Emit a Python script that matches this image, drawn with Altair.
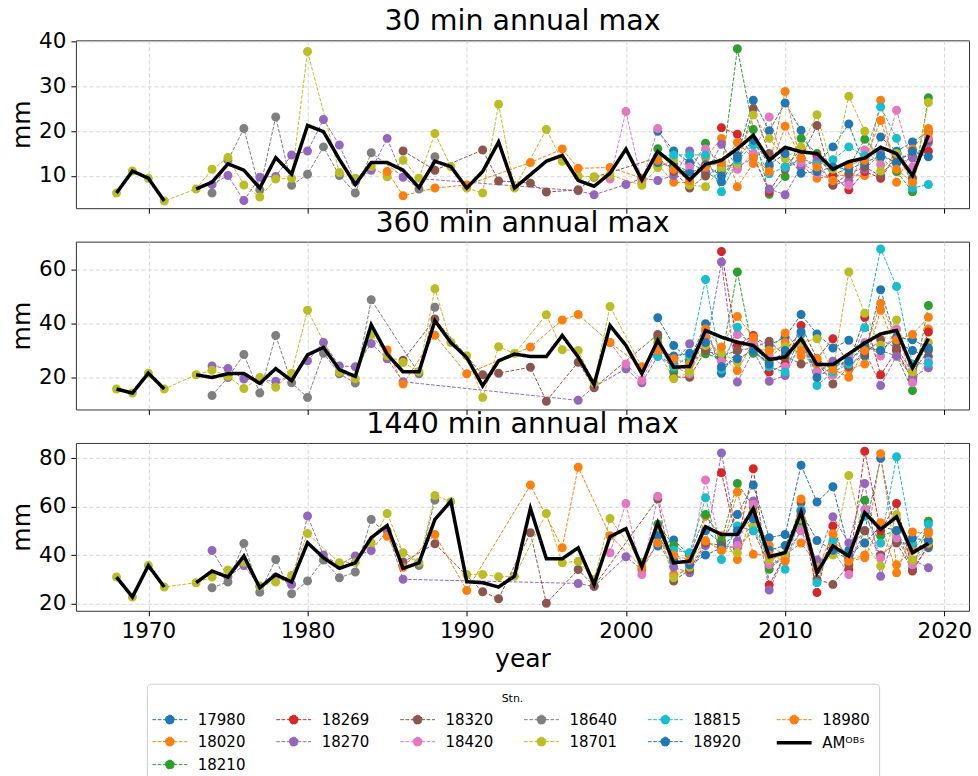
import altair as alt
import pandas as pd

N = None
YEARS = list(range(1968, 2020))
YRS_02 = list(range(2002, 2020))
XTICKS = [1970, 1980, 1990, 2000, 2010, 2020]

AM = "AMᴼᴮˢ"
STATIONS = ["17980", "18020", "18210", "18269", "18270", "18320", "18420",
            "18640", "18701", "18815", "18920", "18980"]
LEGEND_ORDER = ["17980", "18269", "18320", "18640", "18815", "18980",
                "18020", "18270", "18420", "18701", "18920", AM, "18210"]
COLOR_OF = {"17980": "#1f77b4", "18020": "#ff7f0e", "18210": "#2ca02c",
            "18269": "#d62728", "18270": "#9467bd", "18320": "#8c564b",
            "18420": "#e377c2", "18640": "#7f7f7f", "18701": "#bcbd22",
            "18815": "#17becf", "18920": "#1f77b4", "18980": "#ff7f0e",
            AM: "#000000"}

# ---- AM^OBS (areal max) per duration, 1968-2019 ----
AM_30 = [6.2, 11.1, 9.5, 4.4, N, 7.1, 8.6, 12.7, 11.3, 7.3,
         14.1, 10.4, 21.3, 19.9, 13.7, 8.1, 13.0, 13.0, 11.3, 7.4,
         13.3, 12.1, 7.3, 11.0, 17.6, 7.3, 10.3, 13.3, 14.6, 9.0,
         7.7, 10.6, 16.0, 9.1, 15.5, 12.6, 9.1, 12.6, 13.5, 16.1,
         19.1, 13.5, 16.4, 15.4, 15.0, 11.5, 13.2, 14.0, 16.4, 15.0,
         10.1, 19.1]
AM_360 = [15.7, 14.2, 21.6, 15.7, N, 21.0, 20.0, 21.4, 21.5, 17.8,
          23.3, 18.8, 28.4, 31.2, 22.9, 20.4, 39.6, 28.7, 22.1, 22.1,
          41.1, 33.0, 27.4, 16.9, 26.2, 28.7, 27.8, 27.8, 35.6, 27.6,
          17.4, 39.3, 31.9, 21.4, 33.8, 23.8, 24.1, 37.5, 35.0, 33.1,
          31.9, 26.7, 27.6, 34.4, 24.8, 24.8, 28.8, 32.8, 36.2, 37.5,
          23.6, 34.4]
AM_1440 = [30.9, 22.7, 35.7, 26.8, N, 28.6, 33.4, 30.9, 39.6, 26.5,
           32.0, 28.9, 45.1, 38.9, 34.5, 36.8, 47.2, 52.2, 34.5, 36.8,
           54.7, 62.3, 29.0, 28.6, 26.8, 31.3, 59.3, 38.5, 38.5, 43.0,
           27.9, 47.6, 50.9, 35.2, 53.3, 36.8, 37.5, 51.7, 48.5, 48.5,
           59.1, 39.3, 41.0, 57.7, 32.7, 43.7, 39.6, 57.5, 50.6, 55.8,
           41.0, 44.8]

# ---- station years ----
YRS_18701 = (list(range(1968, 1972)) + list(range(1973, 1981)) + list(range(1982, 1994))
             + list(range(1995, 2000)) + list(range(2001, 2020)))
YRS_18640 = list(range(1974, 1985)) + [1987, 1988]
YRS_18270 = list(range(1974, 1987)) + [1997, 1998] + list(range(2000, 2020))
YRS_18320 = [1986, 1988, 1991, 1992, 1994, 1995, 1997, 1998] + YRS_02
YRS_18980 = [1985, 1986, 1988, 1990, 1994, 1996, 1997, 1999] + list(range(2001, 2020))
YRS_18420 = list(range(1999, 2020))
YRS_18269 = list(range(2006, 2020))

# ---- station values: 30 min ----
V30 = {
    "18701": [6.2, 11.1, 9.5, 4.4,
              7.1, 11.5, 14.1, 8.0, 5.3, 9.3, 9.5, 37.8,
              10.8, 9.5, 12.1, 9.8, 13.5, 9.5, 19.5, 12.1, 7.3, 6.2, 26.0, 7.3,
              20.4, 13.3, 10.0, 9.8, 10.2,
              7.9, 11.9, 13.6, 8.0, 7.6, 11.7, 12.8, 23.6, 18.4, 13.9, 16.5, 23.7, 11.5,
              27.8, 20.0, 11.1, 15.0, 8.4, 26.4],
    "18640": [6.2, 13.5, 20.6, 6.9, 23.2, 7.9, 10.4, 16.5, 10.1, 6.2, 15.2, 7.1, 14.3],
    "18270": [8.1, 10.1, 4.5, 9.7, 9.9, 14.7, 15.6, 22.6, 16.9, 8.7, 11.3, 18.4, 9.7,
              6.7, 5.8,
              8.1, 9.5, 9.0, 10.1, 15.6, 10.5, 17.1, 12.0, 14.0, 7.1, 5.8, 12.0, 13.5, 7.9,
              9.0, 11.5, 15.0, 12.8, 14.0, 17.4],
    "18320": [15.6, 11.3, 15.8, 8.9, 8.4, 6.4, 6.9, 9.7,
              14.1, 11.0, 7.3, 10.0, 12.0, 12.5, 25.0, 15.0, 11.5, 14.0, 21.3, 8.0, 10.5,
              12.0, 10.0, 14.5, 9.5, 18.0],
    "18980": [11.0, 5.6, 7.3, 8.0, 13.0, 16.0, 11.7, 11.9,
              9.5, 13.5, 11.5, 9.0, 12.0, 13.0, 17.5, 14.0, 11.0, 21.1, 14.0, 12.0, 9.0,
              12.5, 13.5, 22.4, 11.5, 8.6, 19.5],
    "18420": [9.3, 24.4, 8.5, 20.6, 14.0, 12.0, 16.0, 13.0, 11.5, 15.0, 23.2, 12.0, 13.0,
              10.6, 9.0, 7.9, 15.8, 12.5, 24.7, 12.0, 18.5],
    "17980": [20.0, 15.6, 13.0, 11.0, 8.7, 14.5, 26.9, 20.1, 26.3, 20.2, 12.8, 16.5, 21.6,
              12.1, 18.7, 15.5, 17.6, 19.9],
    "18920": [13.0, 12.0, 10.5, 12.5, 10.0, 14.0, 18.0, 12.5, 15.0, 10.6, 11.0, 12.0, 11.5,
              13.0, 14.5, 13.0, 15.5, 14.3],
    "18020": [12.5, 8.6, 8.5, 14.1, 18.4, 7.6, 12.8, 12.0, 28.9, 12.4, 9.5, 10.0, 10.2,
              10.1, 26.9, 8.6, 16.0, 20.6],
    "18210": [16.1, 12.5, 11.0, 17.3, 11.0, 38.4, 20.4, 5.9, 9.9, 18.4, 15.0, 10.1, 12.0,
              18.2, 14.1, 11.0, 6.5, 27.5],
    "18815": [14.5, 14.7, 14.7, 14.7, 6.5, 13.5, 16.9, 10.5, 12.0, 14.0, 12.5, 13.6, 16.5,
              14.5, 25.4, 18.4, 7.3, 8.1],
    "18269": [20.8, 19.3, 14.5, 6.5, 12.0, 16.0, 14.5, 10.1, 6.9, 11.0, 9.5, 14.5, 14.3, 15.5],
}

# ---- station values: 360 min ----
V360 = {
    "18701": [15.7, 14.2, 21.6, 15.7,
              21.0, 22.7, 20.5, 15.9, 20.0, 16.4, 21.6, 45.0,
              22.0, 19.5, 36.0, 28.1, 25.6, 22.2, 53.0, 33.0, 28.1, 12.6, 31.4, 28.9,
              43.3, 30.3, 30.0, 18.0, 46.4,
              23.8, 30.0, 19.5, 22.0, 31.9, 29.0, 25.7, 31.0, 30.0, 31.5, 33.0, 34.4, 22.0,
              59.2, 43.9, 32.0, 41.4, 22.0, 33.0],
    "18640": [13.3, 20.0, 28.5, 14.2, 35.6, 18.0, 12.6, 29.0, 21.4, 17.9, 48.9, 21.4, 46.1],
    "18270": [24.3, 23.3, 19.4, 19.0, 18.6, 20.5, 26.2, 33.0, 24.3, 24.0, 32.6, 27.0, 18.4,
              11.5, 16.5,
              23.2, 18.0, 28.0, 25.0, 32.5, 30.0, 62.9, 18.3, 30.0, 18.6, 20.7, 33.0, 22.0,
              26.0, 24.0, 30.0, 17.0, 28.0, 20.0, 23.6],
    "18320": [26.4, 41.7, 21.0, 21.6, 23.8, 11.2, 25.7, 16.2,
              36.0, 20.1, 20.1, 30.0, 28.0, 30.0, 31.0, 33.5, 28.0, 25.0, 26.0, 17.6, 24.0,
              29.0, 34.0, 31.0, 22.0, 30.0],
    "18980": [30.2, 17.6, 35.7, 21.4, 31.3, 41.4, 43.4, 33.0,
              24.0, 30.0, 27.0, 25.0, 38.0, 31.3, 42.7, 35.0, 30.0, 36.5, 30.0, 27.0, 23.0,
              20.1, 30.0, 47.6, 34.0, 36.0, 42.4],
    "18420": [33.0, 25.0, 19.0, 31.0, 24.0, 21.4, 37.0, 26.0, 36.0, 33.0, 28.0, 24.0, 31.0,
              22.0, 21.0, 27.0, 33.0, 28.0, 38.0, 18.0, 26.0],
    "17980": [42.2, 31.9, 26.3, 40.0, 21.6, 30.0, 35.0, 32.0, 35.0, 43.4, 36.2, 31.0, 33.8,
              28.0, 52.6, 33.0, 30.0, 27.8],
    "18920": [30.0, 28.0, 29.0, 33.0, 24.0, 27.0, 30.0, 25.0, 30.0, 37.0, 20.0, 24.0, 26.0,
              32.0, 30.0, 35.0, 34.0, 31.0],
    "18020": [33.0, 26.0, 22.0, 35.0, 28.0, 22.6, 33.0, 27.0, 33.0, 28.0, 25.0, 21.0, 23.0,
              25.0, 45.0, 30.0, 20.0, 38.0],
    "18210": [35.0, 22.0, 26.0, 28.8, 27.0, 59.2, 29.0, 26.0, 27.0, 32.0, 22.0, 25.0, 26.0,
              31.0, 30.0, 28.0, 15.2, 46.8],
    "18815": [27.8, 24.0, 28.0, 56.4, 23.0, 38.7, 30.0, 24.0, 22.0, 36.0, 17.0, 22.0, 25.0,
              38.5, 67.8, 53.8, 25.0, 25.3],
    "18269": [66.8, 32.0, 35.6, 22.0, 25.0, 39.3, 27.0, 34.4, 25.0, 42.4, 21.0, 30.0, 19.0, 36.9],
}

# ---- station values: 1440 min ----
V1440 = {
    "18701": [30.9, 22.7, 35.7, 26.8,
              28.6, 30.9, 33.8, 37.0, 27.2, 28.9, 31.6, 48.9,
              36.8, 37.0, 45.1, 57.2, 41.0, 37.0, 64.6, 62.0, 32.0, 32.0, 31.1, 31.3,
              57.2, 36.8, 37.5, 30.0, 55.1,
              37.0, 50.0, 30.6, 35.0, 46.0, 42.0, 41.0, 52.0, 38.0, 40.0, 55.0, 35.0, 40.0,
              72.9, 45.0, 35.5, 56.8, 38.0, 45.0],
    "18640": [26.5, 28.9, 44.8, 24.7, 38.2, 24.0, 29.3, 38.0, 30.6, 33.0, 54.7, 35.7, 62.7],
    "18270": [41.9, 31.0, 35.7, 27.0, 31.0, 27.9, 56.1, 40.0, 36.0, 39.6, 41.9, 50.0, 30.0,
              28.3, 27.0,
              39.3, 34.0, 45.0, 35.0, 32.7, 44.0, 82.2, 45.8, 62.3, 25.6, 40.0, 50.0, 38.0,
              55.8, 45.0, 69.6, 31.3, 50.0, 38.0, 34.8],
    "18320": [37.1, 44.7, 24.9, 22.0, 49.2, 20.1, 34.0, 27.2,
              63.2, 29.3, 34.0, 45.0, 44.0, 43.0, 50.0, 36.0, 39.0, 61.6, 30.0, 27.9, 36.0,
              50.0, 40.0, 45.0, 34.0, 44.0],
    "18980": [47.8, 35.0, 48.5, 25.4, 68.9, 43.0, 76.3, 48.0,
              35.0, 45.0, 40.0, 38.0, 45.8, 42.0, 66.0, 40.3, 40.0, 37.5, 63.2, 34.0, 48.8,
              37.5, 38.9, 53.3, 32.7, 49.5, 48.8],
    "18420": [41.0, 61.3, 32.0, 64.3, 40.0, 36.0, 71.0, 42.0, 44.0, 61.0, 36.1, 38.0, 50.0,
              34.0, 42.0, 32.0, 58.8, 38.9, 47.0, 36.0, 45.0],
    "17980": [43.7, 46.2, 40.0, 50.0, 45.0, 56.8, 68.9, 47.2, 48.5, 77.1, 61.9, 68.2, 42.0,
              50.0, 80.0, 46.0, 44.0, 43.0],
    "18920": [48.0, 38.0, 36.0, 40.0, 43.0, 50.0, 55.0, 42.0, 44.0, 58.0, 46.0, 42.0, 40.0,
              45.0, 52.0, 50.0, 47.0, 46.0],
    "18020": [50.0, 32.0, 34.0, 56.0, 48.0, 38.2, 58.0, 44.0, 40.0, 45.0, 36.0, 44.0, 38.0,
              40.0, 81.8, 36.0, 42.0, 50.0],
    "18210": [52.7, 44.0, 40.0, 56.8, 46.0, 69.6, 60.0, 34.1, 40.0, 54.0, 36.0, 42.0, 38.0,
              62.6, 48.0, 50.0, 34.0, 54.0],
    "18815": [47.8, 42.0, 41.0, 63.7, 38.2, 52.0, 50.0, 40.0, 34.1, 58.8, 28.6, 46.0, 40.0,
              56.0, 45.0, 80.6, 45.0, 52.7],
    "18269": [74.0, 45.1, 75.6, 27.6, 40.0, 58.0, 24.5, 52.0, 34.0, 82.9, 50.0, 61.3, 33.4, 44.0],
}

YEARS_OF = {"18701": YRS_18701, "18640": YRS_18640, "18270": YRS_18270,
            "18320": YRS_18320, "18980": YRS_18980, "18420": YRS_18420,
            "17980": YRS_02, "18920": YRS_02, "18020": YRS_02, "18210": YRS_02,
            "18815": YRS_02, "18269": YRS_18269}


def station_frame(values):
    rows = []
    for stn in STATIONS:
        for yr, v in zip(YEARS_OF[stn], values[stn]):
            rows.append({"year": yr, "value": v, "stn": stn, "seg": stn})
    return pd.DataFrame(rows)


def am_frame(values):
    rows = []
    for yr, v in zip(YEARS, values):
        if v is not None:
            rows.append({"year": yr, "value": v, "stn": AM,
                         "seg": "am_a" if yr < 1972 else "am_b"})
    return pd.DataFrame(rows)


FONT = "DejaVu Sans"
# legend glyphs: dashed line with a marker for stations, plain line for AM
MARKER_PATH = "M-1.55,0L1.55,0M-0.4,0A0.4,0.4,0,1,1,0.4,0A0.4,0.4,0,1,1,-0.4,0Z"
LINE_PATH = "M-1.55,0L1.55,0"
LEG = alt.Legend(title="Stn.", orient="none", legendX=71, legendY=644,
                 direction="horizontal", columns=6,
                 symbolSize=506, symbolOffset=1,
                 labelFontSize=15, labelFont=FONT, labelColor="black",
                 titleFontSize=11, titleFont=FONT, titleFontWeight="normal",
                 titleColor="black", titleAnchor="middle", titlePadding=4,
                 strokeColor="#cccccc", fillColor="white", padding=9,
                 cornerRadius=4, columnPadding=28, rowPadding=2, labelOffset=15)

color_enc = alt.Color("stn:N", scale=alt.Scale(domain=LEGEND_ORDER,
                      range=[COLOR_OF[s] for s in LEGEND_ORDER]), legend=LEG)
dash_enc = alt.StrokeDash("stn:N", scale=alt.Scale(type="ordinal", domain=LEGEND_ORDER,
                          range=[[1, 0] if s == AM else [3.7, 1.6] for s in LEGEND_ORDER]),
                          legend=LEG)
width_enc = alt.StrokeWidth("stn:N", scale=alt.Scale(type="ordinal", domain=LEGEND_ORDER,
                            range=[3.5 if s == AM else 1.0 for s in LEGEND_ORDER]),
                            legend=LEG)
shape_enc = alt.Shape("stn:N", scale=alt.Scale(domain=LEGEND_ORDER,
                      range=[LINE_PATH if s == AM else MARKER_PATH for s in LEGEND_ORDER]),
                      legend=LEG)


def panel(title, st_vals, am_vals, ydom, yticks, bottom, toff):
    st = station_frame(st_vals)
    am = am_frame(am_vals)
    x = alt.X("year:Q", scale=alt.Scale(domain=[1965.45, 2021.55], nice=False, zero=False),
              axis=alt.Axis(values=XTICKS, labels=bottom, format="d",
                            title="year" if bottom else None))
    y = alt.Y("value:Q", scale=alt.Scale(domain=ydom, nice=False, zero=False),
              axis=alt.Axis(values=yticks, title="mm"))
    lines = alt.Chart(st).mark_line().encode(x=x, y=y, color=color_enc,
                                             strokeDash=dash_enc, strokeWidth=width_enc,
                                             detail="seg:N")
    pts = alt.Chart(st).mark_point(filled=True, opacity=1, size=506).encode(
        x=x, y=y, color=color_enc, shape=shape_enc)
    amline = alt.Chart(am).mark_line().encode(x=x, y=y, color=color_enc,
                                              strokeDash=dash_enc, strokeWidth=width_enc,
                                              detail="seg:N")
    return alt.layer(lines, pts, amline).properties(
        width=894, height=168,
        title=alt.TitleParams(title, fontSize=28.5, font=FONT, fontWeight="normal",
                              anchor="middle", color="black", offset=toff))


p1 = panel("30 min annual max", V30, AM_30, [2.8, 40.3], [10, 20, 30, 40], False, -4.5)
p2 = panel("360 min annual max", V360, AM_360, [8.1, 70.5], [20, 40, 60], False, 4)
p3 = panel("1440 min annual max", V1440, AM_1440, [17.0, 86.3], [20, 40, 60, 80], True, 4)

chart = alt.vconcat(p1, p2, p3, spacing=-5.5).properties(
    padding={"left": 9, "top": 5, "right": 5, "bottom": 0}
).configure_view(stroke="#333333", strokeWidth=1).configure_axis(
    labelFont=FONT, titleFont=FONT, labelFontSize=21.5, titleFontSize=25,
    labelColor="black", titleColor="black", titleFontWeight="normal",
    tickColor="black", tickSize=5, labelPadding=5, titlePadding=4,
    domain=False, grid=True, gridColor="#cccccc", gridDash=[4, 2.5], gridWidth=0.8
)

chart.save("out.html", embed_options={"renderer": "svg", "actions": False})
